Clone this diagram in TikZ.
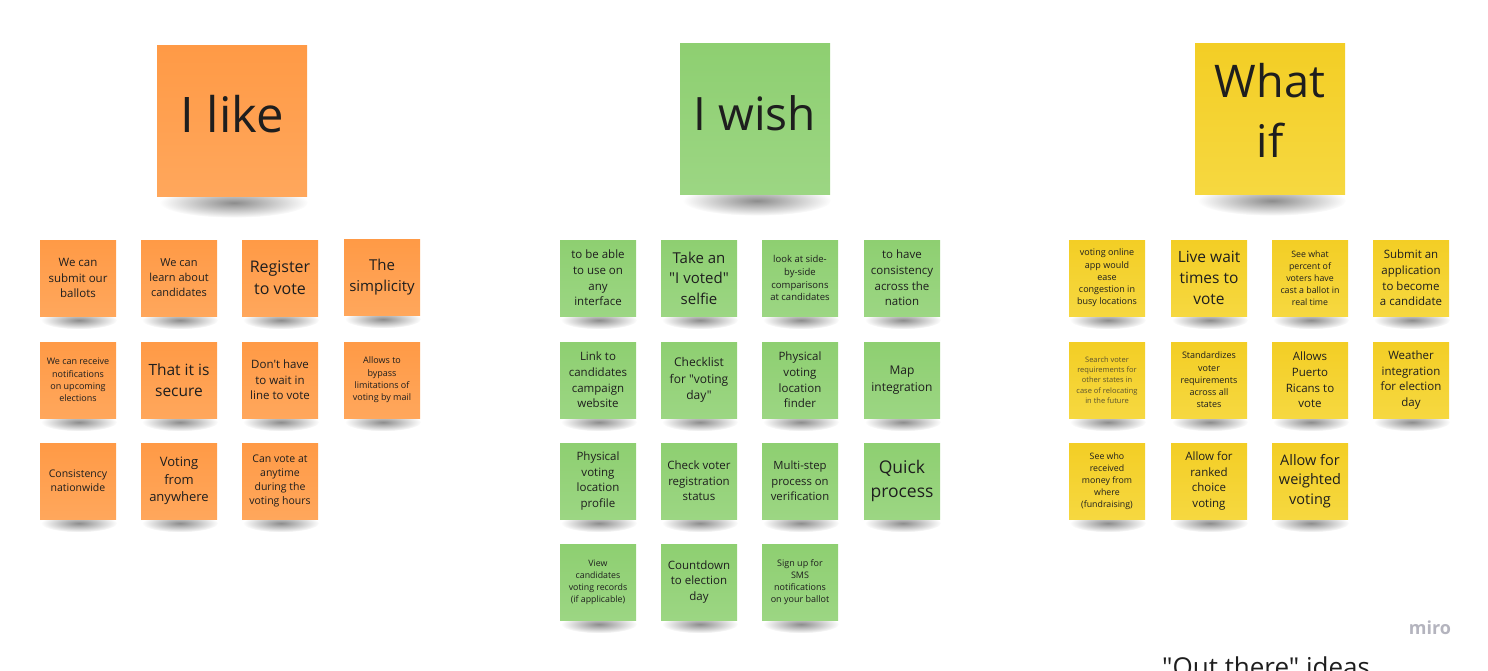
\documentclass[tikz,border=0pt]{standalone}
\usepackage{fontspec}
\setmainfont{Open Sans}[Ligatures=TeXOff]
\usetikzlibrary{fadings,backgrounds,calc}

% sticky-note palette
\definecolor{orangetop}{HTML}{FF9A46}
\definecolor{orangebot}{HTML}{FFA75C}
\definecolor{greentop}{HTML}{8ECF71}
\definecolor{greenbot}{HTML}{9CD683}
\definecolor{yellowtop}{HTML}{F3CE25}
\definecolor{yellowbot}{HTML}{F6D840}
\definecolor{inktext}{HTML}{1E1E1E}
\definecolor{fainttext}{HTML}{5A5230}
\definecolor{brandgray}{HTML}{B4B4BE}

% soft shadow under each note
\tikzfading[name=shadowfade, inner color=transparent!10, outer color=transparent!100]

% font size in px (1px = 1pt here) with matching line spacing
\newcommand\notefont[1]{\fontsize{#1pt}{\dimexpr #1pt*136/100\relax}\selectfont}

\tikzset{
  x=1pt, y=-1pt,
  sticky/.style={minimum width=76pt, minimum height=76pt, inner sep=1pt,
    align=center, text=inktext},
  orangenote/.style={sticky, top color=orangetop, bottom color=orangebot},
  greennote/.style={sticky, top color=greentop, bottom color=greenbot},
  yellownote/.style={sticky, top color=yellowtop, bottom color=yellowbot},
  bignote/.style={minimum width=150pt, minimum height=151pt, inner sep=0pt,
    align=center, text=inktext},
  headtext/.style={inner sep=0pt, align=center, text=inktext},
  shadowblob/.style={fill=black, fill opacity=0.5, path fading=shadowfade},
}

\begin{document}
\begin{tikzpicture}
\useasboundingbox (0,0) rectangle (1488,671);
\clip (0,0) rectangle (1488,671);

% ---------- headers ----------
\node[bignote, top color=orangetop, bottom color=orangebot] (hlike) at (232,121) {};
\node[headtext, font=\notefont{49}] (tlike) at (232,114) {I like};
\node[bignote, top color=greentop, bottom color=greenbot] (hwish) at (755,119) {};
\node[headtext, font=\notefont{46}] (twish) at (755,113) {I wish};
\node[bignote, top color=yellowtop, bottom color=yellowbot] (hwhat) at (1270,119) {};
\node[headtext, font=\fontsize{45pt}{60pt}\selectfont] (twhat) at (1270,110) {What\\if};

% ---------- I like ----------
\node[orangenote, font=\notefont{11.5}] (o1) at (78,278) {We can\\submit our\\ballots};
\node[orangenote, font=\notefont{11}] (o2) at (179,278) {We can\\learn about\\candidates};
\node[orangenote, font=\notefont{16}] (o3) at (280,278) {Register\\to vote};
\node[orangenote, font=\notefont{15}] (o4) at (382,277) {The\\simplicity};
\node[orangenote, font=\notefont{9}] (o5) at (78,380) {We can receive\\notifications\\on upcoming\\elections};
\node[orangenote, font=\notefont{15.5}] (o6) at (179,380) {That it is\\secure};
\node[orangenote, font=\notefont{11.5}] (o7) at (280,380) {Don't have\\to wait in\\line to vote};
\node[orangenote, font=\notefont{9}] (o8) at (382,380) {Allows to\\bypass\\limitations of\\voting by mail};
\node[orangenote, font=\notefont{10.5}] (o9) at (78,481) {Consistency\\nationwide};
\node[orangenote, font=\notefont{13}] (o10) at (179,481) {Voting\\from\\anywhere};
\node[orangenote, font=\notefont{10.5}] (o11) at (280,481) {Can vote at\\anytime\\during the\\voting hours};

% ---------- I wish ----------
\node[greennote, font=\notefont{11.5}] (g1) at (598,278) {to be able\\to use on\\any\\interface};
\node[greennote, font=\notefont{15}] (g2) at (699,278) {Take an\\"I voted"\\selfie};
\node[greennote, font=\notefont{9.5}] (g3) at (800,278) {look at side-\\by-side\\comparisons\\at candidates};
\node[greennote, font=\notefont{11.5}] (g4) at (902,278) {to have\\consistency\\across the\\nation};
\node[greennote, font=\notefont{11.5}] (g5) at (598,380) {Link to\\candidates\\campaign\\website};
\node[greennote, font=\notefont{12}] (g6) at (699,380) {Checklist\\for "voting\\day"};
\node[greennote, font=\notefont{11.5}] (g7) at (800,380) {Physical\\voting\\location\\finder};
\node[greennote, font=\notefont{12}] (g8) at (902,380) {Map\\integration};
\node[greennote, font=\notefont{11.5}] (g9) at (598,481) {Physical\\voting\\location\\profile};
\node[greennote, font=\notefont{11.5}] (g10) at (699,481) {Check voter\\registration\\status};
\node[greennote, font=\notefont{11.3}] (g11) at (800,481) {Multi-step\\process on\\verification};
\node[greennote, font=\notefont{17.5}] (g12) at (902,481) {Quick\\process};
\node[greennote, font=\notefont{8.8}] (g13) at (598,582) {View\\candidates\\voting records\\(if applicable)};
\node[greennote, font=\notefont{11.5}] (g14) at (699,582) {Countdown\\to election\\day};
\node[greennote, font=\notefont{9}] (g15) at (800,582) {Sign up for\\SMS\\notifications\\on your ballot};

% ---------- What if ----------
\node[yellownote, font=\notefont{9}] (y1) at (1107,278) {voting online\\app would\\ease\\congestion in\\busy locations};
\node[yellownote, font=\notefont{15.5}] (y2) at (1209,278) {Live wait\\times to\\vote};
\node[yellownote, font=\notefont{8.8}] (y3) at (1310,278) {See what\\percent of\\voters have\\cast a ballot in\\real time};
\node[yellownote, font=\notefont{11.5}] (y4) at (1411,278) {Submit an\\application\\to become\\a candidate};
\node[yellownote, font=\notefont{7.5}, text=fainttext] (y5) at (1107,380) {Search voter\\requirements for\\other states in\\case of relocating\\in the future};
\node[yellownote, font=\notefont{9}] (y6) at (1209,380) {Standardizes\\voter\\requirements\\across all\\states};
\node[yellownote, font=\notefont{11.5}] (y7) at (1310,380) {Allows\\Puerto\\Ricans to\\vote};
\node[yellownote, font=\notefont{11.5}] (y8) at (1411,380) {Weather\\integration\\for election\\day};
\node[yellownote, font=\notefont{8.8}] (y9) at (1107,481) {See who\\received\\money from\\where\\(fundraising)};
\node[yellownote, font=\notefont{11.5}] (y10) at (1209,481) {Allow for\\ranked\\choice\\voting};
\node[yellownote, font=\notefont{14.5}] (y11) at (1310,481) {Allow for\\weighted\\voting};

% ---------- shadows ----------
\begin{scope}[on background layer]
  \foreach \n in {hlike,hwish,hwhat}
    \fill[shadowblob] ($(\n.south)+(2,6)$) ellipse [x radius=74, y radius=15];
  \foreach \n in {o1,o2,o3,o4,o5,o6,o7,o8,o9,o10,o11,
                  g1,g2,g3,g4,g5,g6,g7,g8,g9,g10,g11,g12,g13,g14,g15,
                  y1,y2,y3,y4,y5,y6,y7,y8,y9,y10,y11}
    \fill[shadowblob] ($(\n.south)+(1,4)$) ellipse [x radius=38, y radius=9];
\end{scope}

% ---------- footer ----------
\node[text=brandgray, font=\bfseries\notefont{18}] (brand) at (1430,628) {miro};
\node[anchor=base west, text=inktext, font=\notefont{26}, inner sep=0pt]
  (caption) at (1162,676) {"Out there" ideas};
\end{tikzpicture}
\end{document}
